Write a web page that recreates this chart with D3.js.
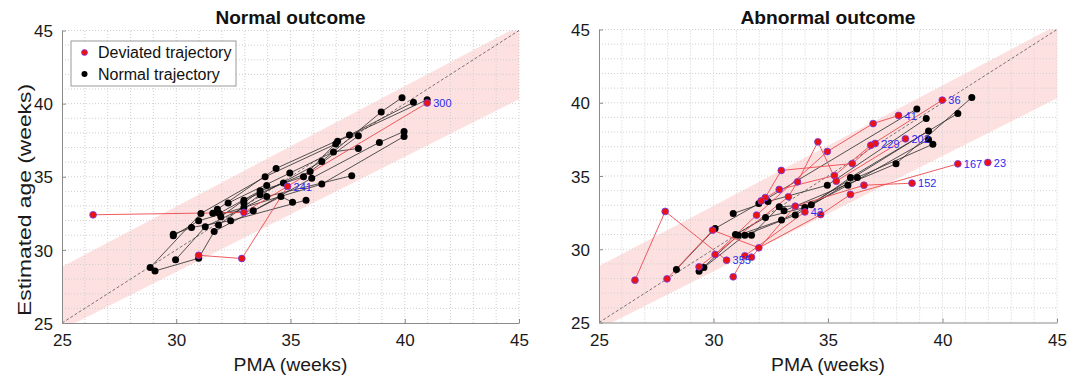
<!DOCTYPE html>
<html><head><meta charset="utf-8">
<script src="https://cdn.jsdelivr.net/npm/d3@7"></script>
<style>
body{margin:0;background:#fff}
svg{display:block}
text{font-family:Arial,"Liberation Sans",sans-serif}
</style>
</head><body>
<svg id="chart" width="1079" height="378"></svg>
<script>
// ---------- data ----------
const axisTicks = [25, 30, 35, 40, 45];
const gridTicks = [25,26,27,28,29,30,31,32,33,34,35,36,37,38,39,40,41,42,43,44,45];
const bandPMA = [25, 45];
const bandLower = [24.55, 40.3];
const bandUpper = [28.85, 45.3];
const identityLine = [25, 45];
const panelTitles = ["Normal outcome", "Abnormal outcome"];
const legendLabels = ["Deviated trajectory", "Normal trajectory"];

// Normal outcome: normal trajectories [PMA, estimated age]
const normalOutcomeNormalTraj = [
  [[28.86,28.79],[31.08,32.49],[33.89,35.0],[36.98,37.24]],
  [[29.07,28.56],[30.98,29.43],[31.66,31.26],[34.58,33.65],[35.09,33.26]],
  [[29.97,29.32],[31.27,31.58],[33.96,33.65],[37.68,35.07]],
  [[29.87,31.07],[30.67,31.53],[32.38,32.0],[35.68,33.4]],
  [[29.87,30.96],[30.98,31.99],[32.96,32.9],[36.37,34.5],[39.97,37.76]],
  [[31.6,32.5],[33.37,32.67],[35.93,34.9],[38.89,37.35],[39.97,38.1]],
  [[31.85,31.7],[33.67,33.77],[36.37,36.05],[38.97,39.43],[39.88,40.41]],
  [[31.8,32.77],[34.37,35.57],[37.58,37.85],[40.38,40.09]],
  [[32.27,33.2],[34.97,35.25],[36.88,36.7],[37.97,36.94]],
  [[31.88,32.5],[33.67,34.04],[35.57,35.0],[37.06,37.42],[40.98,40.27]],
  [[31.95,32.27],[32.96,33.4],[34.69,34.57],[35.86,35.36],[37.97,37.8]],
  [[32.96,33.2],[33.96,34.4]]
];
// Normal outcome: deviated trajectories
const normalOutcomeDevTraj = [
  [[26.36,32.4],[32.96,32.56],[40.98,40.05]],
  [[30.98,29.63],[32.87,29.41],[34.87,34.34]]
];
const normalOutcomeDevIds = ["300", "241"];

// Abnormal outcome: normal trajectories
const abnormalOutcomeNormalTraj = [
  [[28.38,28.62],[30.07,31.42],[31.98,33.12],[38.88,39.58]],
  [[29.37,28.5],[31.08,30.96],[32.97,31.99],[35.87,34.37],[39.39,37.49]],
  [[29.58,28.75],[31.37,30.96],[33.57,32.33],[36.28,34.9],[39.58,37.17]],
  [[30.86,32.44],[32.38,33.26],[34.97,34.37],[39.29,38.92]],
  [[30.96,31.0],[32.27,32.17],[33.99,32.85],[39.39,38.08]],
  [[31.66,30.96],[32.87,32.9],[34.27,33.03],[35.98,34.9],[40.67,39.27]],
  [[33.08,32.62],[37.97,35.83],[41.28,40.36]]
];
// Abnormal outcome: deviated trajectories
const abnormalOutcomeDevTraj = [
  [[26.57,27.89],[27.89,32.58],[30.57,29.25]],
  [[30.07,29.64],[31.88,32.33],[34.97,36.67],[36.97,38.58],[38.08,39.13]],
  [[27.97,27.98],[29.96,31.3],[31.98,30.1],[34.68,32.37],[35.98,33.74],[40.67,35.83]],
  [[30.86,28.12],[31.37,29.55],[33.99,32.55]],
  [[31.66,29.46],[33.57,32.94],[36.57,34.37],[38.67,34.51]],
  [[32.26,33.53],[32.96,35.38],[36.06,35.85],[37.06,37.22]],
  [[32.08,33.3],[32.87,34.08],[35.28,35.03],[36.87,37.1],[39.99,40.18]],
  [[29.37,28.8],[33.27,33.58],[33.67,34.6],[34.56,37.33],[35.36,34.65],[38.38,37.54]],
  [[41.98,35.92]]
];
const abnormalOutcomeDevIds = ["355", "41", "167", "42", "152", "229", "36", "202", "23"];

// ---------- drawing ----------
const svg = d3.select("#chart");
const RED = "#ee1111", RED_EDGE = "#6b3df0", RED_LINE = "#ec4a4e", BLACK_LINE = "#2a2a2a";

function drawPanel(cfg, idx) {
  const x = d3.scaleLinear().domain([25, 45]).range(cfg.xr);
  const y = d3.scaleLinear().domain([25, 45]).range(cfg.yr);
  const g = svg.append("g");
  const clipId = "clip" + idx;
  g.append("clipPath").attr("id", clipId).append("rect")
    .attr("x", cfg.xr[0]).attr("y", cfg.yr[1])
    .attr("width", cfg.xr[1] - cfg.xr[0]).attr("height", cfg.yr[0] - cfg.yr[1]);

  // band
  const area = d3.area().x((d, i) => x(bandPMA[i])).y0((d, i) => y(bandLower[i])).y1((d, i) => y(bandUpper[i]));
  g.append("path").datum(bandPMA).attr("d", area).attr("fill", "#fde1e1")
    .attr("clip-path", `url(#${clipId})`);

  // grid
  const grid = g.append("g").attr("stroke", "#cfcfcf").attr("stroke-width", 1).attr("stroke-dasharray", "1,2");
  grid.selectAll(".gv").data(gridTicks.slice(1)).join("line")
    .attr("x1", d => x(d)).attr("x2", d => x(d)).attr("y1", cfg.yr[0]).attr("y2", cfg.yr[1]);
  grid.selectAll(".gh").data(gridTicks.slice(1)).join("line")
    .attr("y1", d => y(d)).attr("y2", d => y(d)).attr("x1", cfg.xr[0]).attr("x2", cfg.xr[1]);

  // identity line
  g.append("line").attr("x1", x(identityLine[0])).attr("y1", y(identityLine[0]))
    .attr("x2", x(identityLine[1])).attr("y2", y(identityLine[1]))
    .attr("stroke", "#555").attr("stroke-width", 0.8).attr("stroke-dasharray", "3,2");

  // axes
  const xAxis = d3.axisBottom(x).tickValues(axisTicks).tickSizeInner(-4).tickSizeOuter(0).tickPadding(9);
  const yAxis = d3.axisLeft(y).tickValues(axisTicks).tickSizeInner(-4).tickSizeOuter(0).tickPadding(9);
  const gx = g.append("g").attr("transform", `translate(0,${cfg.yr[0]})`).call(xAxis);
  const gy = g.append("g").attr("transform", `translate(${cfg.xr[0]},0)`).call(yAxis);
  [gx, gy].forEach(a => {
    a.select(".domain").attr("stroke", "#8a8a8a");
    a.selectAll(".tick line").attr("stroke", "#8a8a8a");
    a.selectAll(".tick text").attr("font-size", 17).attr("fill", "#1a1a1a")
      .attr("font-family", "Arial, 'Liberation Sans', sans-serif");
  });
  gx.selectAll(".tick text").attr("dy", "0.85em");
  gy.selectAll(".tick text").attr("dy", "0.36em");

  const line = d3.line().x(d => x(d[0])).y(d => y(d[1]));
  // normal trajectories
  g.append("g").selectAll("path").data(cfg.normal).join("path")
    .attr("d", line).attr("fill", "none").attr("stroke", BLACK_LINE).attr("stroke-width", 0.8);
  // deviated trajectories
  g.append("g").selectAll("path").data(cfg.dev).join("path")
    .attr("d", line).attr("fill", "none").attr("stroke", RED_LINE).attr("stroke-width", 0.9);
  // normal points
  g.append("g").selectAll("circle").data(cfg.normal.flat()).join("circle")
    .attr("cx", d => x(d[0])).attr("cy", d => y(d[1])).attr("r", 3.5).attr("fill", "#000");
  // deviated points
  g.append("g").selectAll("circle").data(cfg.dev.flat()).join("circle")
    .attr("cx", d => x(d[0])).attr("cy", d => y(d[1])).attr("r", 3.4)
    .attr("fill", RED).attr("stroke", RED_EDGE).attr("stroke-width", 0.8);
  // ids at last point
  g.append("g").selectAll("text").data(cfg.dev).join("text")
    .attr("x", d => x(d[d.length - 1][0]) + 6)
    .attr("y", d => y(d[d.length - 1][1]))
    .attr("dy", "0.38em").attr("font-size", 11).attr("fill", "#2b2bf0")
    .text((d, i) => cfg.ids[i]);

  // title
  const cx = (cfg.xr[0] + cfg.xr[1]) / 2;
  svg.append("text").attr("x", cx).attr("y", 24).attr("text-anchor", "middle")
    .attr("font-size", 18).attr("font-weight", "bold").attr("fill", "#111")
    .attr("textLength", cfg.titleLen).attr("lengthAdjust", "spacingAndGlyphs")
    .text(cfg.title);
  // x label
  svg.append("text").attr("x", cx).attr("y", 371).attr("text-anchor", "middle")
    .attr("font-size", 18).attr("fill", "#1a1a1a")
    .attr("textLength", 114).attr("lengthAdjust", "spacingAndGlyphs")
    .text("PMA (weeks)");
}

drawPanel({xr: [62, 519], yr: [323, 30.5], normal: normalOutcomeNormalTraj, dev: normalOutcomeDevTraj,
  ids: normalOutcomeDevIds, title: panelTitles[0], titleLen: 150}, 0);
drawPanel({xr: [599, 1057], yr: [322.5, 29.5], normal: abnormalOutcomeNormalTraj, dev: abnormalOutcomeDevTraj,
  ids: abnormalOutcomeDevIds, title: panelTitles[1], titleLen: 175}, 1);

// y label
svg.append("text").attr("transform", "translate(31,200) rotate(-90)").attr("text-anchor", "middle")
  .attr("font-size", 19).attr("fill", "#1a1a1a")
  .attr("textLength", 232).attr("lengthAdjust", "spacingAndGlyphs")
  .text("Estimated age (weeks)");

// legend
const lg = svg.append("g");
lg.append("rect").attr("x", 71).attr("y", 41).attr("width", 165).attr("height", 45)
  .attr("fill", "#fff").attr("stroke", "#9a9a9a").attr("stroke-width", 1);
lg.append("circle").attr("cx", 84.5).attr("cy", 52.5).attr("r", 3).attr("fill", RED).attr("stroke", RED_EDGE).attr("stroke-width", 0.7);
lg.append("circle").attr("cx", 84.5).attr("cy", 74).attr("r", 3).attr("fill", "#000");
lg.selectAll("text").data(legendLabels).join("text")
  .attr("x", 98).attr("y", (d, i) => 58 + i * 21.5).attr("font-size", 16).attr("fill", "#111").text(d => d);
</script>
</body></html>
